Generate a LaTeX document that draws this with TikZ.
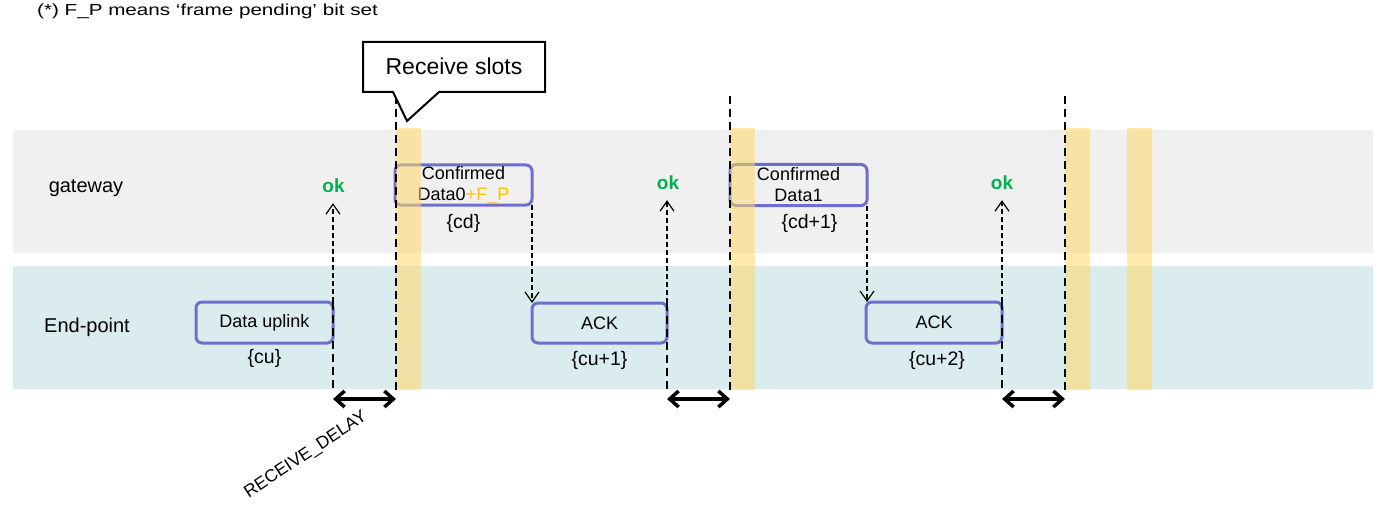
\documentclass[tikz,border=0pt]{standalone}
\usepackage{fontspec}
\setmainfont{Liberation Sans}
\usetikzlibrary{positioning,arrows.meta}
\definecolor{gwband}{RGB}{240,240,240}
\definecolor{epband}{RGB}{218,236,238}
\definecolor{framebl}{RGB}{110,110,208}
\definecolor{okgreen}{RGB}{0,176,80}
\definecolor{fpgold}{RGB}{255,192,0}
\definecolor{slotyel}{RGB}{255,217,102}
\begin{document}
\begin{tikzpicture}[x=1pt, y=-1pt,
    frame/.style={rectangle, draw=framebl, line width=3pt, rounded corners=6pt,
      inner sep=0pt, outer sep=0pt, align=center, font=\fontsize{18}{21}\selectfont},
    seq/.style={font=\fontsize{19.5}{22}\selectfont, inner sep=0pt},
    okmark/.style={font=\fontsize{19}{21}\selectfont\bfseries, text=okgreen, inner sep=0pt},
    lane/.style={font=\fontsize{20}{24}\selectfont, anchor=base},
    reply/.style={line width=1.2pt, dash pattern=on 5pt off 3pt,
      -{Straight Barb[length=10pt,width=14pt]}},
    slotline/.style={line width=2.5pt, dash pattern=on 8pt off 5pt},
    delay/.style={line width=3.5pt,
      {Straight Barb[length=9pt,width=16pt]}-{Straight Barb[length=9pt,width=16pt]}}]
    \useasboundingbox (0,0) rectangle (1388,513);
    % lanes
    \fill[gwband] (13,130) rectangle (1373,253);
    \fill[epband] (13,266) rectangle (1373,389);
    \node[lane] (gw) at (86,193) {gateway};
    \node[lane] (ep) at (87,332) {End-point};
    \node[anchor=base west, inner sep=0pt, font=\fontsize{16}{18}\selectfont] (note) at (37,15.5)
      {\scalebox{1.29}[1]{(*) F\_P means ‘frame pending’ bit set}};
    % frames
    \node[frame, minimum width=137pt, minimum height=41pt] (up) at (264.5,322.5) {Data uplink};
    \node[frame, minimum width=137pt, minimum height=40pt] (cd0) at (463.5,185)
      {Confirmed\\Data0\textcolor{fpgold}{+F\_P}};
    \node[frame, minimum width=135pt, minimum height=40pt] (ack1) at (599.5,323) {ACK};
    \node[frame, minimum width=137pt, minimum height=41pt] (cd1) at (798.5,185) {Confirmed\\Data1};
    \node[frame, minimum width=136pt, minimum height=41pt] (ack2) at (934,322.5) {ACK};
    \node[seq, below=6pt of up] (cu0) {\{cu\}};
    \node[seq, below=8pt of ack1] (cu1) {\{cu+1\}};
    \node[seq, below=8pt of ack2, xshift=3pt] (cu2) {\{cu+2\}};
    \node[seq, below=9pt of cd0] (cdn0) {\{cd\}};
    \node[seq, below=9pt of cd1, xshift=11pt] (cdn1) {\{cd+1\}};
    \node[okmark] (ok0) at (333.5,186) {ok};
    \node[okmark] (ok1) at (668,183) {ok};
    \node[okmark] (ok2) at (1002,183) {ok};
    % messages
    \draw[reply, shorten >=10pt] (up.north east) -- (up.north east |- ok0.south);
    \draw[reply, shorten >=10pt] (ack1.north east) -- (ack1.north east |- ok1.south);
    \draw[reply, shorten >=10pt] (ack2.north east) -- (ack2.north east |- ok2.south);
    \draw[reply] (cd0.south east) -- (cd0.south east |- ack1.north);
    \draw[reply] (cd1.south east) -- (cd1.south east |- ack2.north);
    \coordinate (bot) at (0,390);
    \coordinate (gap) at (0,399);
    \draw[slotline] (up.north east) -- (up.north east |- bot);
    \draw[slotline] (ack1.north east) -- (ack1.north east |- bot);
    \draw[slotline] (ack2.north east) -- (ack2.north east |- bot);
    % receive slots
    \foreach \x in {396,730,1065,1127}
      \fill[slotyel, opacity=0.55] (\x,128) rectangle ++(24.5,262);
    \foreach \x/\n in {396/1,730/2,1065/3} {
      \coordinate (top\n) at (\x,96);
      \coordinate (low\n) at (\x,390);
      \draw[slotline] (top\n) -- (low\n);
    }
    \draw[delay] (up.north east |- gap) -- (top1 |- gap);
    \draw[delay] (ack1.north east |- gap) -- (top2 |- gap);
    \draw[delay] (ack2.north east |- gap) -- (top3 |- gap);
    \node[rotate=33.5, font=\fontsize{17.5}{20}\selectfont] (rd) at (306,455) {RECEIVE\_DELAY};
    % callout
    \draw[line width=2pt, fill=white] (363,42) -- (545,42) -- (545,92) -- (439,92)
      -- (407,121) -- (393,92) -- (363,92) -- cycle;
    \node[font=\fontsize{23}{26}\selectfont] (rcv) at (454,66.6) {Receive slots};
\end{tikzpicture}
\end{document}
